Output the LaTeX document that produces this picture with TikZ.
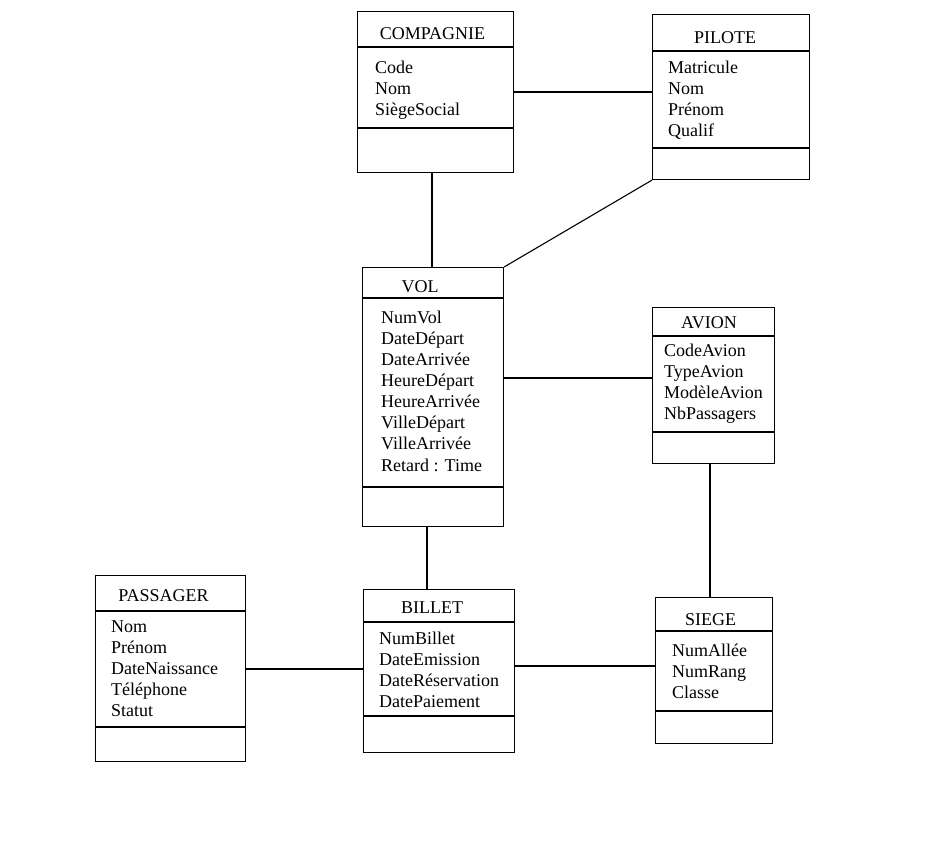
\documentclass[tikz,border=0pt]{standalone}
\usepackage{fontspec}
\setmainfont{Liberation Serif}
\begin{document}
\begin{tikzpicture}[x=1pt,y=-1pt,
  box/.style={draw, line width=1.1pt, rectangle, inner sep=0pt, anchor=north west},
  sepline/.style={line width=1.1pt},
  link/.style={line width=1.1pt},
  title/.style={anchor=base, inner sep=0pt, font=\fontsize{18}{21}\selectfont},
  attr/.style={anchor=base west, inner sep=0pt, font=\fontsize{18}{21}\selectfont}]
\fill[white] (0,0) rectangle (931,841);
\useasboundingbox (0,0) rectangle (931,841);

% COMPAGNIE
\node[box, minimum width=156pt, minimum height=161pt] (comp) at (357,11) {};
\draw[sepline] (comp.west |- 0,47) -- (comp.east |- 0,47);
\draw[sepline] (comp.west |- 0,128) -- (comp.east |- 0,128);
\node[title] (compT) at (432.5,39) {COMPAGNIE};
\node[attr] (compA1) at (375,73) {Code};
\node[attr] (compA2) at (375,94) {Nom};
\node[attr] (compA3) at (375,115) {SiègeSocial};

% PILOTE
\node[box, minimum width=157pt, minimum height=165pt] (pil) at (652,14) {};
\draw[sepline] (pil.west |- 0,51) -- (pil.east |- 0,51);
\draw[sepline] (pil.west |- 0,148) -- (pil.east |- 0,148);
\node[title] (pilT) at (725,43) {PILOTE};
\node[attr] (pilA1) at (668,73) {Matricule};
\node[attr] (pilA2) at (668,94) {Nom};
\node[attr] (pilA3) at (668,115) {Prénom};
\node[attr] (pilA4) at (668,136) {Qualif};

% VOL
\node[box, minimum width=141pt, minimum height=259pt] (vol) at (362,267) {};
\draw[sepline] (vol.west |- 0,298) -- (vol.east |- 0,298);
\draw[sepline] (vol.west |- 0,487) -- (vol.east |- 0,487);
\node[title] (volT) at (420,292) {VOL};
\node[attr] (volA1) at (381,323) {NumVol};
\node[attr] (volA2) at (381,344) {DateDépart};
\node[attr] (volA3) at (381,365) {DateArrivée};
\node[attr] (volA4) at (381,386) {HeureDépart};
\node[attr] (volA5) at (381,407) {HeureArrivée};
\node[attr] (volA6) at (381,428) {VilleDépart};
\node[attr] (volA7) at (381,449) {VilleArrivée};
\node[attr] (volA8) at (381,471) {Retard : Time};

% AVION
\node[box, minimum width=122pt, minimum height=156pt] (avi) at (652,307) {};
\draw[sepline] (avi.west |- 0,336) -- (avi.east |- 0,336);
\draw[sepline] (avi.west |- 0,432) -- (avi.east |- 0,432);
\node[title] (aviT) at (709,328) {AVION};
\node[attr] (aviA1) at (664,356) {CodeAvion};
\node[attr] (aviA2) at (664,377) {TypeAvion};
\node[attr] (aviA3) at (664,398) {ModèleAvion};
\node[attr] (aviA4) at (664,419) {NbPassagers};

% PASSAGER
\node[box, minimum width=150pt, minimum height=186pt] (pas) at (95,575) {};
\draw[sepline] (pas.west |- 0,611) -- (pas.east |- 0,611);
\draw[sepline] (pas.west |- 0,727) -- (pas.east |- 0,727);
\node[title] (pasT) at (163.5,601) {PASSAGER};
\node[attr] (pasA1) at (111,632) {Nom};
\node[attr] (pasA2) at (111,653) {Prénom};
\node[attr] (pasA3) at (111,674) {DateNaissance};
\node[attr] (pasA4) at (111,695) {Téléphone};
\node[attr] (pasA5) at (111,716) {Statut};

% BILLET
\node[box, minimum width=151pt, minimum height=163pt] (bil) at (363,589) {};
\draw[sepline] (bil.west |- 0,622) -- (bil.east |- 0,622);
\draw[sepline] (bil.west |- 0,716) -- (bil.east |- 0,716);
\node[title] (bilT) at (432,613) {BILLET};
\node[attr] (bilA1) at (379,644) {NumBillet};
\node[attr] (bilA2) at (379,665) {DateEmission};
\node[attr] (bilA3) at (379,686) {DateRéservation};
\node[attr] (bilA4) at (379,707) {DatePaiement};

% SIEGE
\node[box, minimum width=117pt, minimum height=146pt] (sie) at (655,597) {};
\draw[sepline] (sie.west |- 0,631) -- (sie.east |- 0,631);
\draw[sepline] (sie.west |- 0,711) -- (sie.east |- 0,711);
\node[title] (sieT) at (710.5,625) {SIEGE};
\node[attr] (sieA1) at (672,656) {NumAllée};
\node[attr] (sieA2) at (672,677) {NumRang};
\node[attr] (sieA3) at (672,698) {Classe};

% connectors
\draw[link] (comp.east |- 0,92) -- (pil.west |- 0,92);
\draw[link] (comp.south -| 432,0) -- (vol.north -| 432,0);
\draw[link] (pil.south west) -- (vol.north east);
\draw[link] (vol.east |- 0,378) -- (avi.west |- 0,378);
\draw[link] (vol.south -| 427,0) -- (bil.north -| 427,0);
\draw[link] (avi.south -| 710,0) -- (sie.north -| 710,0);
\draw[link] (pas.east |- 0,669) -- (bil.west |- 0,669);
\draw[link] (bil.east |- 0,666) -- (sie.west |- 0,666);
\end{tikzpicture}
\end{document}
